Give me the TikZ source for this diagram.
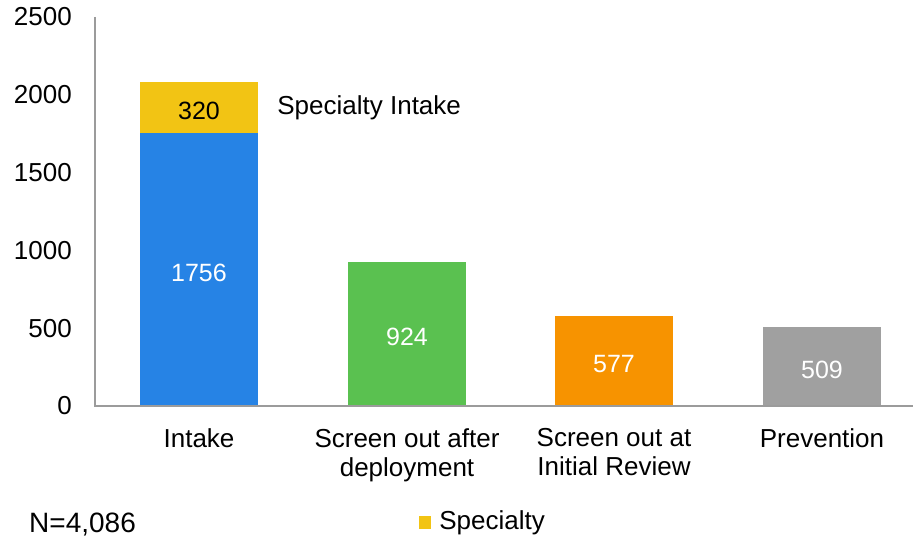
\documentclass[tikz,border=0pt]{standalone}
\usepackage{fontspec}
\setmainfont{Liberation Sans}
\usetikzlibrary{positioning}
\definecolor{intakeblue}{RGB}{38,131,229}
\definecolor{specyellow}{RGB}{242,196,20}
\definecolor{screengreen}{RGB}{90,193,80}
\definecolor{revieworange}{RGB}{247,147,0}
\definecolor{preventgray}{RGB}{160,160,160}
\definecolor{axisgray}{RGB}{155,155,155}
\tikzset{
    bar/.style={rectangle, fill=#1, draw=none, minimum width=118pt, inner sep=0pt, anchor=south, text height=24pt, font=\fontsize{25}{30}\selectfont, text=white},
    ticklabel/.style={anchor=east, inner sep=0pt, font=\fontsize{26}{30}\selectfont},
    catlabel/.style={align=center, inner sep=0pt, font=\fontsize{26}{29}\selectfont},
    notelabel/.style={inner sep=0pt, font=\fontsize{26}{30}\selectfont},
    axisline/.style={axisgray, line width=1.5pt}
}

\begin{document}
\begin{tikzpicture}[x=1pt, y=1pt]

\useasboundingbox (0,0) rectangle (913,539);

% bar bottoms on the baseline
\coordinate (origin) at (95,133);
\coordinate (ytop) at (95,522);
\coordinate (xend) at (913,133);
\coordinate (b1) at (199,133);
\coordinate (b2) at (407,133);
\coordinate (b3) at (614,133);
\coordinate (b4) at (822,133);

\node[bar=intakeblue, minimum height=1756*0.1556pt] (intake) at (b1) {1756};
\node[bar=specyellow, minimum height=320*0.1556pt+1pt, text=black] (spec) at ([yshift=-1pt]intake.north) {320};
\node[bar=screengreen, minimum height=924*0.1556pt] (deploy) at (b2) {924};
\node[bar=revieworange, minimum height=577*0.1556pt] (review) at (b3) {577};
\node[bar=preventgray, minimum height=509*0.1556pt] (prevent) at (b4) {509};

\node[notelabel, right=19pt of spec] (specnote) {Specialty Intake};

% axes
\draw[axisline] (ytop) -- (origin) -- (xend);
\foreach \v in {0,500,...,2500}
    \node[ticklabel] (tick\v) at (72,133+\v*0.1556) {\v};

\node[catlabel, below=22pt of intake.south] (cat1) {Intake};
\node[catlabel, below=22pt of deploy.south] (cat2) {Screen out after\\deployment};
\node[catlabel, below=22pt of review.south] (cat3) {Screen out at\\Initial Review};
\node[catlabel, below=22pt of prevent.south] (cat4) {Prevention};

% footer
\node[notelabel, anchor=west, font=\fontsize{28}{32}\selectfont] (total) at (29,14) {N=4,086};
\node[fill=specyellow, minimum width=12pt, minimum height=13pt, inner sep=0pt] (legendkey) at (425,16.5) {};
\node[notelabel, right=8pt of legendkey] (legendtext) {Specialty};

\end{tikzpicture}
\end{document}
